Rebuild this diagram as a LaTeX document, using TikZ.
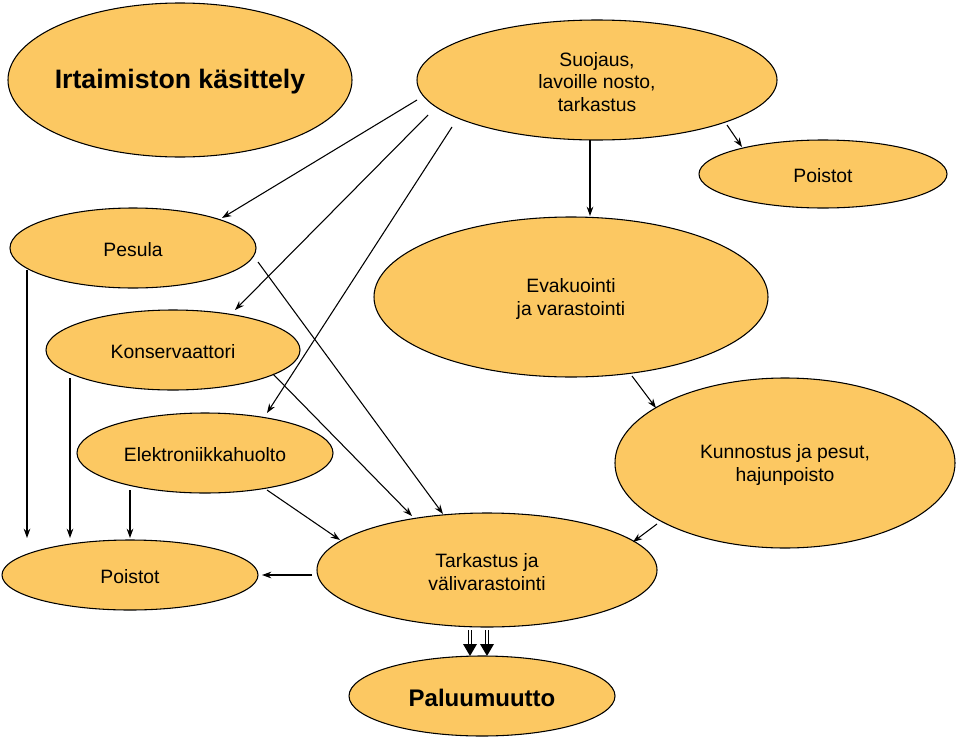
\documentclass[tikz,border=0pt]{standalone}
\usepackage{fontspec}
\setmainfont{Liberation Sans}
\usetikzlibrary{arrows.meta}
\definecolor{egg}{HTML}{FCC862}
\begin{document}
\begin{tikzpicture}[x=0.75pt,y=-0.75pt,
  el/.style={draw=black,fill=egg,line width=0.8pt},
  tx/.style={font=\fontsize{14.5}{17}\selectfont,align=center},
  arr/.style={-{Stealth[length=7pt,width=5pt]},line width=0.8pt}]
\useasboundingbox (0,0) rectangle (960,739);
\draw[el] (180,80) ellipse [x radius=172,y radius=77];
\node[tx,font=\fontsize{20}{24}\selectfont\bfseries] (irt) at (180,82) {Irtaimiston käsittely};
\draw[el] (597,80) ellipse [x radius=180,y radius=60];
\node[tx] (suo) at (597,82) {Suojaus,\\lavoille nosto,\\tarkastus};
\draw[el] (823,174) ellipse [x radius=124,y radius=34];
\node[tx] (po1) at (823,176) {Poistot};
\draw[el] (133,248) ellipse [x radius=123,y radius=40];
\node[tx] (pes) at (133,250) {Pesula};
\draw[el] (571,297) ellipse [x radius=197,y radius=80];
\node[tx] (eva) at (571,299) {Evakuointi\\ja varastointi};
\draw[el] (173,350) ellipse [x radius=127,y radius=40];
\node[tx] (kon) at (173,352) {Konservaattori};
\draw[el] (205,453) ellipse [x radius=128,y radius=40];
\node[tx] (ele) at (205,455) {Elektroniikkahuolto};
\draw[el] (785,463) ellipse [x radius=170,y radius=85];
\node[tx] (kun) at (785,465) {Kunnostus ja pesut,\\hajunpoisto};
\draw[el] (130,575) ellipse [x radius=128,y radius=35];
\node[tx] (po2) at (130,577) {Poistot};
\draw[el] (487,570) ellipse [x radius=170,y radius=57];
\node[tx] (tar) at (487,572) {Tarkastus ja\\välivarastointi};
\draw[el] (482,696) ellipse [x radius=133,y radius=40];
\node[tx,font=\fontsize{18}{22}\selectfont\bfseries] (pal) at (482,698) {Paluumuutto};
\draw[arr] (417,100) -- (222,218);
\draw[arr] (428,115) -- (235,310);
\draw[arr] (452,127) -- (267,413);
\draw[arr] (590,140) -- (590,216);
\draw[arr] (727,125) -- (742,147);
\draw[arr] (258,262) -- (443,514);
\draw[arr] (273,374) -- (412,516);
\draw[arr] (267,490) -- (340,540);
\draw[arr] (27,270) -- (27,538);
\draw[arr] (70,378) -- (70,538);
\draw[arr] (130,490) -- (130,538);
\draw[arr] (312,575) -- (262,575);
\draw[arr] (632,376) -- (656,408);
\draw[arr] (657,524) -- (633,542);
\draw[double,line width=0.6pt,double distance=1.5pt] (470,630) -- (470,645);
\draw[double,line width=0.6pt,double distance=1.5pt] (487,630) -- (487,645);
\fill (463,644) -- (477,644) -- (470,656) -- cycle;
\fill (480,644) -- (494,644) -- (487,656) -- cycle;
\end{tikzpicture}
\end{document}
